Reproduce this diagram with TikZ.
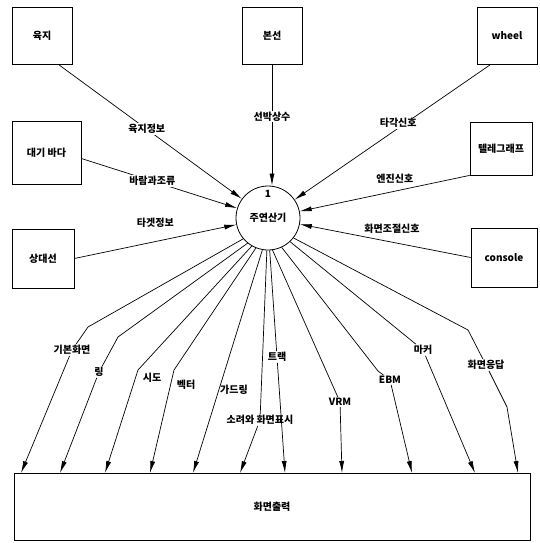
\documentclass[tikz,border=0pt]{standalone}
\usepackage{fontspec}
\setmainfont{Noto Sans CJK KR}
\usepackage{tikz}
\usetikzlibrary{arrows.meta, positioning}
\tikzstyle{entity} = [rectangle, minimum width=60pt, minimum height=57pt, text centered, draw=black, line width=0.8pt]
\tikzstyle{process} = [circle, minimum size=64pt, text centered, draw=black, line width=0.8pt]
\tikzstyle{flow} = [line width=0.7pt,->,>={Latex[length=12pt,width=5pt]}]
\tikzstyle{flowlabel} = [fill=white, inner sep=1pt]

\begin{document}
\begin{tikzpicture}[x=1pt,y=-1pt,font=\bfseries\fontsize{10}{12}\selectfont]
    \useasboundingbox (0,0) rectangle (539,543);

    % Nodes
    \node (yukji) [entity] at (42,36) {육지};
    \node (bonseon) [entity] at (272,36) {본선};
    \node (wheel) [entity] at (507,36) {wheel};
    \node (daegi) [entity, minimum width=69pt, minimum height=63pt] at (46.5,152.5) {대기 바다};
    \node (telegraph) [entity, minimum width=62pt, minimum height=53pt] at (501,148.5) {텔레그래프};
    \node (sangdae) [entity, minimum width=62pt, minimum height=59pt] at (43,258.5) {상대선};
    \node (console) [entity, minimum width=66pt, minimum height=59pt] at (504,257.5) {console};

    \node (main) [process] at (268,218) {주연산기};
    \node (mainid) [below=1pt of main.north] {1};

    \node (screen) [entity, minimum width=516pt, minimum height=67pt] at (272,506.5) {화면출력};

    % Output labels
    \node (basic) [flowlabel] at (72,350) {기본화면};
    \node (ring) [flowlabel] at (99,372) {링};
    \node (sido) [flowlabel] at (152,378) {시도};
    \node (vector) [flowlabel] at (186,385) {벡터};
    \node (guard) [flowlabel] at (234,390) {가드링};
    \node (sound) [flowlabel] at (260,420) {소려와 화면표시};
    \node (track) [flowlabel] at (277,357) {트랙};
    \node (vrm) [flowlabel] at (340,402) {VRM};
    \node (ebm) [flowlabel] at (390,380) {EBM};
    \node (marker) [flowlabel] at (423,350) {마커};
    \node (reply) [flowlabel] at (486,365) {화면응답};

    % Bends and tips
    \coordinate (basicbend) at (88,327);
    \coordinate (ringbend) at (118,337);
    \coordinate (sidobend) at (138,370);
    \coordinate (vectorbend) at (174,370);
    \coordinate (ebmbend) at (378,371);
    \coordinate (replybend) at (468,330);
    \coordinate (replybend2) at (507,407);
    \coordinate (basictip) at (21,473);
    \coordinate (ringtip) at (60,473);
    \coordinate (sidotip) at (105,473);
    \coordinate (vectortip) at (150,473);
    \coordinate (guardtip) at (193,473);
    \coordinate (soundtip) at (240,473);
    \coordinate (tracktip) at (285,473);
    \coordinate (vrmtip) at (342,473);
    \coordinate (ebmtip) at (412,473);
    \coordinate (markertip) at (475,473);
    \coordinate (replytip) at (518,473);

    % Arrows in
    \draw [flow] ([xshift=17pt]yukji.south) -- node[flowlabel, pos=0.48] {육지정보} (main);
    \draw [flow] (bonseon.south) -- node[flowlabel, pos=0.43] {선박상수} (bonseon.south |- main.north);
    \draw [flow] ([xshift=-17pt]wheel.south) -- node[flowlabel, pos=0.47, yshift=5pt] {타각신호} (main);
    \draw [flow] ([yshift=-6pt]daegi.east) -- node[flowlabel, pos=0.455] {바람과조류} (main);
    \draw [flow] (telegraph.south west) -- node[flowlabel, pos=0.44, yshift=13pt] {엔진신호} (main);
    \draw [flow] (sangdae.east) -- node[flowlabel, pos=0.5, yshift=19pt] {타겟정보} (main);
    \draw [flow] (console.west) -- node[flowlabel, pos=0.46, yshift=13pt] {화면조절신호} (main);

    % Arrows out
    \draw [flow] (main.220) -- (basicbend) -- (basic) -- (basictip);
    \draw [flow] (main.231) -- (ringbend) -- (ring) -- (ringtip);
    \draw [flow] (main.240) -- (sidobend) -- (sidotip);
    \draw [flow] (main.248) -- (vectorbend) -- (vectortip);
    \draw [flow] (main.260) -- (guardtip);
    \draw [flow] (main.268) -- (sound) -- (soundtip);
    \draw [flow] (main.273) -- (track) -- (tracktip);
    \draw [flow] (main.278) -- (vrm) -- (vrmtip);
    \draw [flow] (main.295) -- (ebmbend) -- (ebm) -- (ebmtip);
    \draw [flow] (main.313) -- (marker) -- (markertip);
    \draw [flow] (main.322) -- (replybend) -- (reply) -- (replybend2) -- (replytip);

\end{tikzpicture}
\end{document}
